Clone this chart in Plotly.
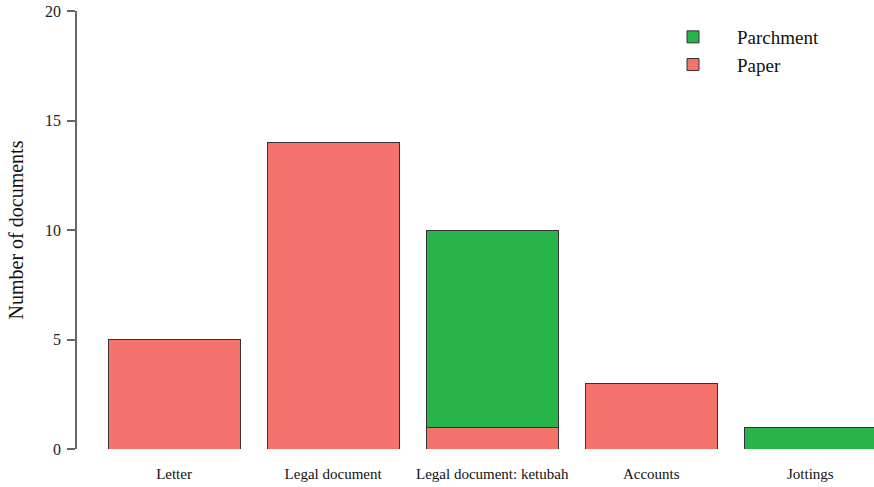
import plotly.graph_objects as go

categories = ["Letter", "Legal document", "Legal document: ketubah", "Accounts", "Jottings"]
paper = [5, 14, 1, 3, 0]
parchment = [0, 0, 9, 0, 1]
y_ticks = [0, 5, 10, 15, 20]

PAPER_COLOR = "#F4736D"
PARCH_COLOR = "#28B34B"
FONT = "Liberation Serif"

fig = go.Figure()
fig.add_trace(go.Bar(
    x=list(range(len(categories))), y=paper, name="Paper",
    marker=dict(color=PAPER_COLOR, line=dict(color="#333333", width=1)),
    width=0.83,
))
fig.add_trace(go.Bar(
    x=list(range(len(categories))), y=parchment, name="Parchment",
    marker=dict(color=PARCH_COLOR, line=dict(color="#333333", width=1)),
    width=0.83,
))

fig.update_layout(
    width=874, height=487,
    barmode="stack",
    paper_bgcolor="white", plot_bgcolor="white",
    margin=dict(l=77, r=0, t=11, b=38, autoexpand=False),
    font=dict(family=FONT, color="#111111"),
    showlegend=True,
    legend=dict(
        x=0.7177, y=0.984, xanchor="left", yanchor="top",
        traceorder="reversed",
        font=dict(family=FONT, size=19, color="#111111"),
        bgcolor="rgba(0,0,0,0)",
        itemwidth=78,
    ),
    xaxis=dict(
        tickmode="array", tickvals=list(range(len(categories))), ticktext=categories,
        range=[-0.61, 4.40], automargin=False,
        showline=False, showgrid=False, zeroline=False, ticks="",
        ticklabelstandoff=14,
        tickfont=dict(family=FONT, size=15, color="#111111"),
    ),
    yaxis=dict(
        range=[0, 20], tickmode="array", tickvals=y_ticks,
        ticktext=[str(v) for v in y_ticks], automargin=False,
        showline=True, linecolor="#666666", linewidth=1.5,
        ticks="outside", ticklen=8, tickcolor="#666666", tickwidth=1.5,
        ticklabelstandoff=3,
        showgrid=False, zeroline=False,
        tickfont=dict(family=FONT, size=16, color="#222222"),
        title=dict(text="Number of documents", font=dict(family=FONT, size=20, color="#111111"), standoff=16),
    ),
)

fig.write_html("out.html", config={"displayModeBar": False},
               post_script="document.body.style.margin='0';")
